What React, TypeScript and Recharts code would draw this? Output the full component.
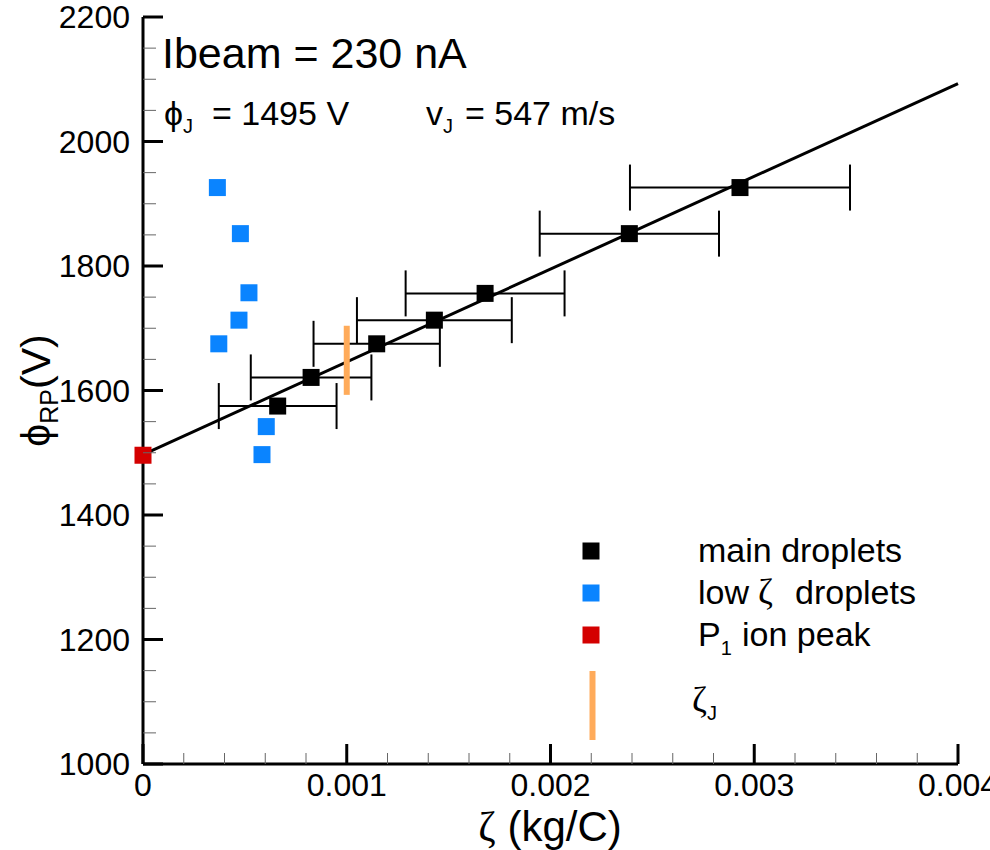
import { ErrorBar, Scatter, ScatterChart, XAxis, YAxis } from "recharts";

// main droplets (black), with symmetric zeta error
const mainZeta = [0.000661, 0.000825, 0.001147, 0.00143, 0.001679, 0.002387, 0.00293];
const mainPhi = [1575, 1621, 1675, 1713, 1756, 1852, 1926];
const mainErr = [0.000289, 0.000296, 0.00031, 0.00038, 0.00039, 0.00044, 0.00054];

// low zeta droplets (blue)
const lowZeta = [0.000365, 0.000478, 0.00052, 0.000471, 0.000372, 0.000605, 0.000584];
const lowPhi = [1926, 1852, 1757, 1713, 1675, 1542, 1497];

// P1 ion peak (red)
const ionZeta = [0];
const ionPhi = [1496];

// linear fit and zeta_J marker
const fitZeta = [0, 0.004];
const fitPhi = [1497, 2093];
const jetZeta = [0.001, 0.001];
const jetPhi = [1593, 1704];

const xTicks = [
  0, 0.0002, 0.0004, 0.0006, 0.0008, 0.001, 0.0012, 0.0014, 0.0016, 0.0018, 0.002,
  0.0022, 0.0024, 0.0026, 0.0028, 0.003, 0.0032, 0.0034, 0.0036, 0.0038, 0.004,
];
const yTicks = [
  1000, 1050, 1100, 1150, 1200, 1250, 1300, 1350, 1400, 1450, 1500, 1550, 1600,
  1650, 1700, 1750, 1800, 1850, 1900, 1950, 2000, 2050, 2100, 2150, 2200,
];

const toPoints = (xs: number[], ys: number[], errs?: number[]) =>
  xs.map((x, i) => ({ x, y: ys[i], err: errs ? errs[i] : 0 }));

const mainData = toPoints(mainZeta, mainPhi, mainErr);
const lowData = toPoints(lowZeta, lowPhi);
const ionData = toPoints(ionZeta, ionPhi);
const fitData = toPoints(fitZeta, fitPhi);
const jetData = toPoints(jetZeta, jetPhi);

const W = 990;
const H = 850;
const LEFT = 143;
const RIGHT = 958;
const TOP = 17;
const BOTTOM = 764;

const SANS = '"Liberation Sans", Arial, sans-serif';
const SERIF = '"Liberation Serif", "DejaVu Serif", serif';
const BLUE = "#0a84ff";
const RED = "#d40000";
const ORANGE = "#ffab5a";

const square = (fill: string) => (props: any) => (
  <rect x={props.cx - 8.5} y={props.cy - 8.5} width={17} height={17} fill={fill} />
);

const noShape = () => <g />;

const YTick = (props: any) => {
  const { y, payload } = props;
  const v = payload.value;
  const major = v % 200 === 0;
  return (
    <g>
      <line
        x1={LEFT}
        x2={LEFT + (major ? 20 : 13)}
        y1={y}
        y2={y}
        stroke={major ? "#000" : "#666"}
        strokeWidth={major ? 3 : 1}
      />
      {major && (
        <text x={130} y={y + 11} textAnchor="end" fontSize={32} fontFamily={SANS} fill="#000">
          {v}
        </text>
      )}
    </g>
  );
};

const XTick = (props: any) => {
  const { x, payload } = props;
  const v = payload.value;
  const k = v * 1000;
  const major = Math.abs(k - Math.round(k)) < 1e-6;
  return (
    <g>
      <line
        x1={x}
        x2={x}
        y1={BOTTOM}
        y2={BOTTOM - (major ? 20 : 11)}
        stroke={major ? "#000" : "#666"}
        strokeWidth={major ? 3 : 1}
      />
      {major && (
        <text x={x} y={796} textAnchor="middle" fontSize={32} fontFamily={SANS} fill="#000">
          {v === 0 ? "0" : v.toFixed(3)}
        </text>
      )}
    </g>
  );
};

function Overlay() {
  return (
    <svg
      width={W}
      height={H}
      style={{ position: "absolute", left: 0, top: 0, pointerEvents: "none" }}
      fontFamily={SANS}
    >
      {/* annotations */}
      <text x={162} y={68} fontSize={43}>
        Ibeam = 230 nA
      </text>
      <text x={164} y={125} fontSize={34}>
        ϕ
        <tspan fontSize={20} dy={8}>
          J
        </tspan>
        <tspan x={212} dy={-8}>
          = 1495 V
        </tspan>
      </text>
      <text x={426} y={125} fontSize={34}>
        v
        <tspan fontSize={20} dy={8}>
          J
        </tspan>
        <tspan x={465} dy={-8}>
          = 547 m/s
        </tspan>
      </text>

      {/* legend */}
      <rect x={582.5} y={542.5} width={17} height={17} fill="#000" />
      <rect x={582.5} y={584.5} width={17} height={17} fill={BLUE} />
      <rect x={582.5} y={626.5} width={17} height={17} fill={RED} />
      <line x1={592.5} x2={592.5} y1={671} y2={740} stroke={ORANGE} strokeWidth={6} />
      <text x={698} y={562} fontSize={34}>
        main droplets
      </text>
      <text x={698} y={604} fontSize={34}>
        low
        <tspan x={758} fontFamily={SERIF} fontSize={36}>
          ζ
        </tspan>
        <tspan x={795}>droplets</tspan>
      </text>
      <text x={698} y={646} fontSize={34}>
        P
        <tspan fontSize={20} dy={9}>
          1
        </tspan>
        <tspan x={742} dy={-9}>
          ion peak
        </tspan>
      </text>
      <text x={692} y={712} fontSize={36} fontFamily={SERIF}>
        ζ
        <tspan fontSize={20} fontFamily={SANS} dy={8}>
          J
        </tspan>
      </text>

      {/* axis titles */}
      <text x={550} y={841} textAnchor="middle" fontSize={42}>
        <tspan fontFamily={SERIF}>ζ</tspan>
        <tspan dx={12}>(kg/C)</tspan>
      </text>
      <text
        x={0}
        y={0}
        transform={`translate(50 ${(TOP + BOTTOM) / 2}) rotate(-90)`}
        textAnchor="middle"
        fontSize={41}
      >
        ϕ
        <tspan fontSize={25} dy={8}>
          RP
        </tspan>
        <tspan dy={-8}>(V)</tspan>
      </text>
    </svg>
  );
}

export default function App() {
  return (
    <div style={{ position: "absolute", left: 0, top: 0, width: W, height: H, background: "#fff" }}>
      <ScatterChart
        width={W}
        height={H}
        margin={{ top: TOP, right: W - RIGHT, left: 0, bottom: 0 }}
      >
        <XAxis
          type="number"
          dataKey="x"
          domain={[0, 0.004]}
          ticks={xTicks}
          interval={0}
          height={H - BOTTOM}
          tickLine={false}
          tick={<XTick />}
          axisLine={{ stroke: "#000", strokeWidth: 3 }}
        />
        <XAxis
          xAxisId="top"
          orientation="top"
          type="number"
          domain={[0, 0.004]}
          height={0}
          tick={false}
          tickLine={false}
          axisLine={{ stroke: "#000", strokeWidth: 3 }}
        />
        <YAxis
          type="number"
          dataKey="y"
          domain={[1000, 2200]}
          ticks={yTicks}
          interval={0}
          width={LEFT}
          tickLine={false}
          tick={<YTick />}
          axisLine={{ stroke: "#000", strokeWidth: 3 }}
        />
        <YAxis
          yAxisId="right"
          orientation="right"
          type="number"
          domain={[1000, 2200]}
          width={0}
          tick={false}
          tickLine={false}
          axisLine={{ stroke: "#000", strokeWidth: 3 }}
        />
        <Scatter
          data={fitData}
          line={{ stroke: "#000", strokeWidth: 3 }}
          shape={noShape}
          isAnimationActive={false}
        />
        <Scatter
          data={jetData}
          line={{ stroke: ORANGE, strokeWidth: 6 }}
          shape={noShape}
          isAnimationActive={false}
        />
        <Scatter data={mainData} shape={square("#000")} isAnimationActive={false}>
          <ErrorBar dataKey="err" direction="x" width={23} stroke="#000" strokeWidth={2} />
        </Scatter>
        <Scatter data={lowData} shape={square(BLUE)} isAnimationActive={false} />
        <Scatter data={ionData} shape={square(RED)} isAnimationActive={false} />
      </ScatterChart>
      <Overlay />
    </div>
  );
}
